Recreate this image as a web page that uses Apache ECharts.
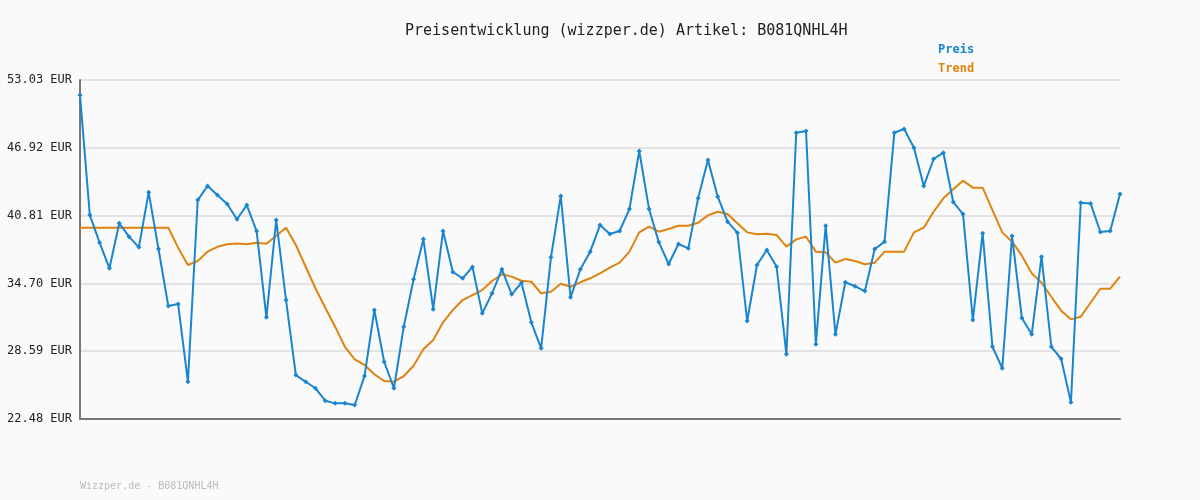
<!DOCTYPE html>
<html><head><meta charset="utf-8">
<script src="https://cdn.jsdelivr.net/npm/echarts@6/dist/echarts.min.js"></script>
<style>html,body{margin:0;padding:0;background:#fafafa}#c{width:1200px;height:500px}</style>
</head><body><div id="c"></div>
<script>
const preis = [51.68,40.86,38.37,36.06,40.12,38.91,37.95,42.91,37.80,32.66,32.84,25.84,42.21,43.48,42.67,41.86,40.48,41.76,39.42,31.64,40.41,33.20,26.44,25.84,25.25,24.13,23.89,23.89,23.74,26.35,32.30,27.64,25.25,30.80,35.07,38.70,32.37,39.42,35.73,35.16,36.18,32.00,33.81,35.97,33.72,34.76,31.19,28.85,37.05,42.58,33.45,35.97,37.56,39.96,39.15,39.42,41.40,46.63,41.40,38.40,36.45,38.25,37.86,42.37,45.82,42.51,40.26,39.27,31.31,36.36,37.71,36.20,28.31,48.28,48.43,29.21,39.90,30.11,34.80,34.44,34.01,37.80,38.46,48.28,48.61,46.93,43.48,45.91,46.48,42.04,40.95,31.40,39.21,28.99,27.05,38.97,31.58,30.11,37.11,28.99,27.91,23.98,41.97,41.91,39.33,39.42,42.76];
const trend = [39.72,39.72,39.72,39.72,39.72,39.72,39.72,39.72,39.72,39.72,37.92,36.36,36.72,37.56,38.00,38.22,38.30,38.22,38.37,38.28,39.00,39.72,38.16,36.20,34.26,32.51,30.80,28.99,27.86,27.35,26.51,25.90,25.84,26.35,27.28,28.76,29.60,31.19,32.30,33.20,33.65,34.10,34.92,35.52,35.31,34.94,34.85,33.81,33.95,34.67,34.40,34.80,35.16,35.61,36.12,36.57,37.56,39.30,39.81,39.36,39.60,39.90,39.90,40.17,40.83,41.16,40.95,40.12,39.30,39.12,39.18,39.06,38.01,38.67,38.91,37.56,37.50,36.57,36.90,36.72,36.42,36.57,37.56,37.56,37.56,39.30,39.72,41.16,42.37,43.18,43.96,43.33,43.33,41.31,39.30,38.46,37.20,35.61,34.76,33.50,32.24,31.46,31.70,32.96,34.22,34.22,35.31];
const categories = preis.map((_, i) => String(i + 1));
const title = 'Preisentwicklung (wizzper.de) Artikel: B081QNHL4H';
const footer = 'Wizzper.de - B081QNHL4H';
const mono = 'DejaVu Sans Mono';
const chart = echarts.init(document.getElementById('c'));
chart.setOption({
  backgroundColor: '#fafafa',
  animation: false,
  title: {text: title, left: 400, top: 19, textStyle: {fontFamily: mono, fontSize: 15, fontWeight: 'normal', color: '#222'}},
  graphic: [{type: 'text', left: 80, top: 481, style: {text: footer, font: '10px ' + mono, fill: '#bbb'}}],
  legend: {orient: 'vertical', left: 928, top: 38, itemGap: 6, icon: 'none', itemWidth: 0,
    textStyle: {fontFamily: mono, fontSize: 12, fontWeight: 'bold', color: 'inherit'},
    data: ['Preis', 'Trend']},
  grid: {left: 80, right: 80, top: 80, bottom: 81},
  xAxis: {type: 'category', data: categories, boundaryGap: false,
    axisLine: {lineStyle: {color: '#777', width: 2}}, axisTick: {show: false}, axisLabel: {show: false}, splitLine: {show: false}},
  yAxis: {type: 'value', min: 22.48, max: 53.03, interval: 6.11,
    axisLine: {show: true, lineStyle: {color: '#777', width: 2}}, axisTick: {show: false},
    axisLabel: {fontFamily: mono, fontSize: 12, color: '#222', formatter: v => v.toFixed(2) + ' EUR'},
    splitLine: {lineStyle: {color: '#e3e3e3', width: 2}}},
  series: [
    {name: 'Preis', type: 'line', data: preis, color: '#1a85cf', symbol: 'diamond', symbolSize: 5, showAllSymbol: true,
      lineStyle: {width: 2}, z: 3},
    {name: 'Trend', type: 'line', data: trend, color: '#e0830f', symbol: 'none', lineStyle: {width: 2}, z: 2}
  ]
});
</script></body></html>
